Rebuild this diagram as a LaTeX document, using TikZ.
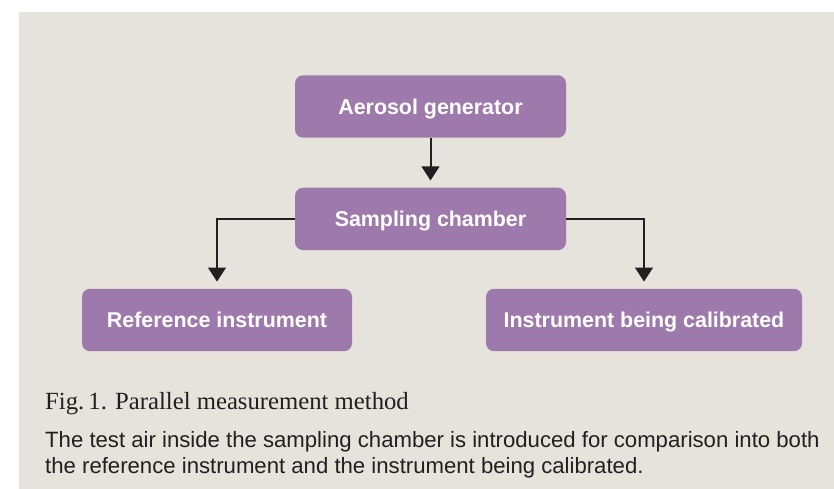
\documentclass[tikz,border=0pt]{standalone}
\usepackage{fontspec}
\setmainfont{Liberation Serif}
\setsansfont{Liberation Sans}
\usetikzlibrary{arrows.meta}
\definecolor{bgc}{HTML}{E6E3DC}
\definecolor{boxc}{HTML}{9E79AC}
\definecolor{inkc}{HTML}{231F20}
\tikzset{
  stepbox/.style={draw=none, fill=boxc, rounded corners=8pt, inner sep=0pt,
    minimum height=62.4pt, text=white, text height=15.3pt, text depth=0pt,
    font=\sffamily\bfseries\fontsize{21.4}{24}\selectfont},
  flow/.style={draw=inkc, line width=2pt,
    -{Triangle[width=17.7pt,length=14pt]}, shorten >=7pt},
  txt/.style={inner sep=0pt, text=inkc}
}
\begin{document}
\begin{tikzpicture}[x=1pt,y=-1pt]
\useasboundingbox (0,0) rectangle (834,489);
\fill[white] (0,0) rectangle (834,489);
\fill[bgc] (19,12) rectangle (834,489);
\node[stepbox, minimum width=271pt] (gen) at (430.5,106.5) {Aerosol generator};
\node[stepbox, minimum width=271pt] (cham) at (430.5,218.9) {Sampling chamber};
\node[stepbox, minimum width=270pt] (ref) at (217,320) {Reference instrument};
\node[stepbox, minimum width=316pt] (cal) at (644,320) {Instrument being calibrated};
\draw[flow] (gen.south) -- (cham.north);
\draw[flow] (cham.west) -| (ref.north);
\draw[flow] (cham.east) -| (cal.north);
\node[txt, anchor=base west, font=\rmfamily\fontsize{24.7}{28}\selectfont] (cap) at (45,409.3) {Fig.\,1. Parallel measurement method};
\node[txt, anchor=base west, align=left, font=\sffamily\fontsize{22.15}{26}\selectfont] (para) at (45,473)
  {The test air inside the sampling chamber is introduced for comparison into both\\the reference instrument and the instrument being calibrated.};
\end{tikzpicture}
\end{document}
